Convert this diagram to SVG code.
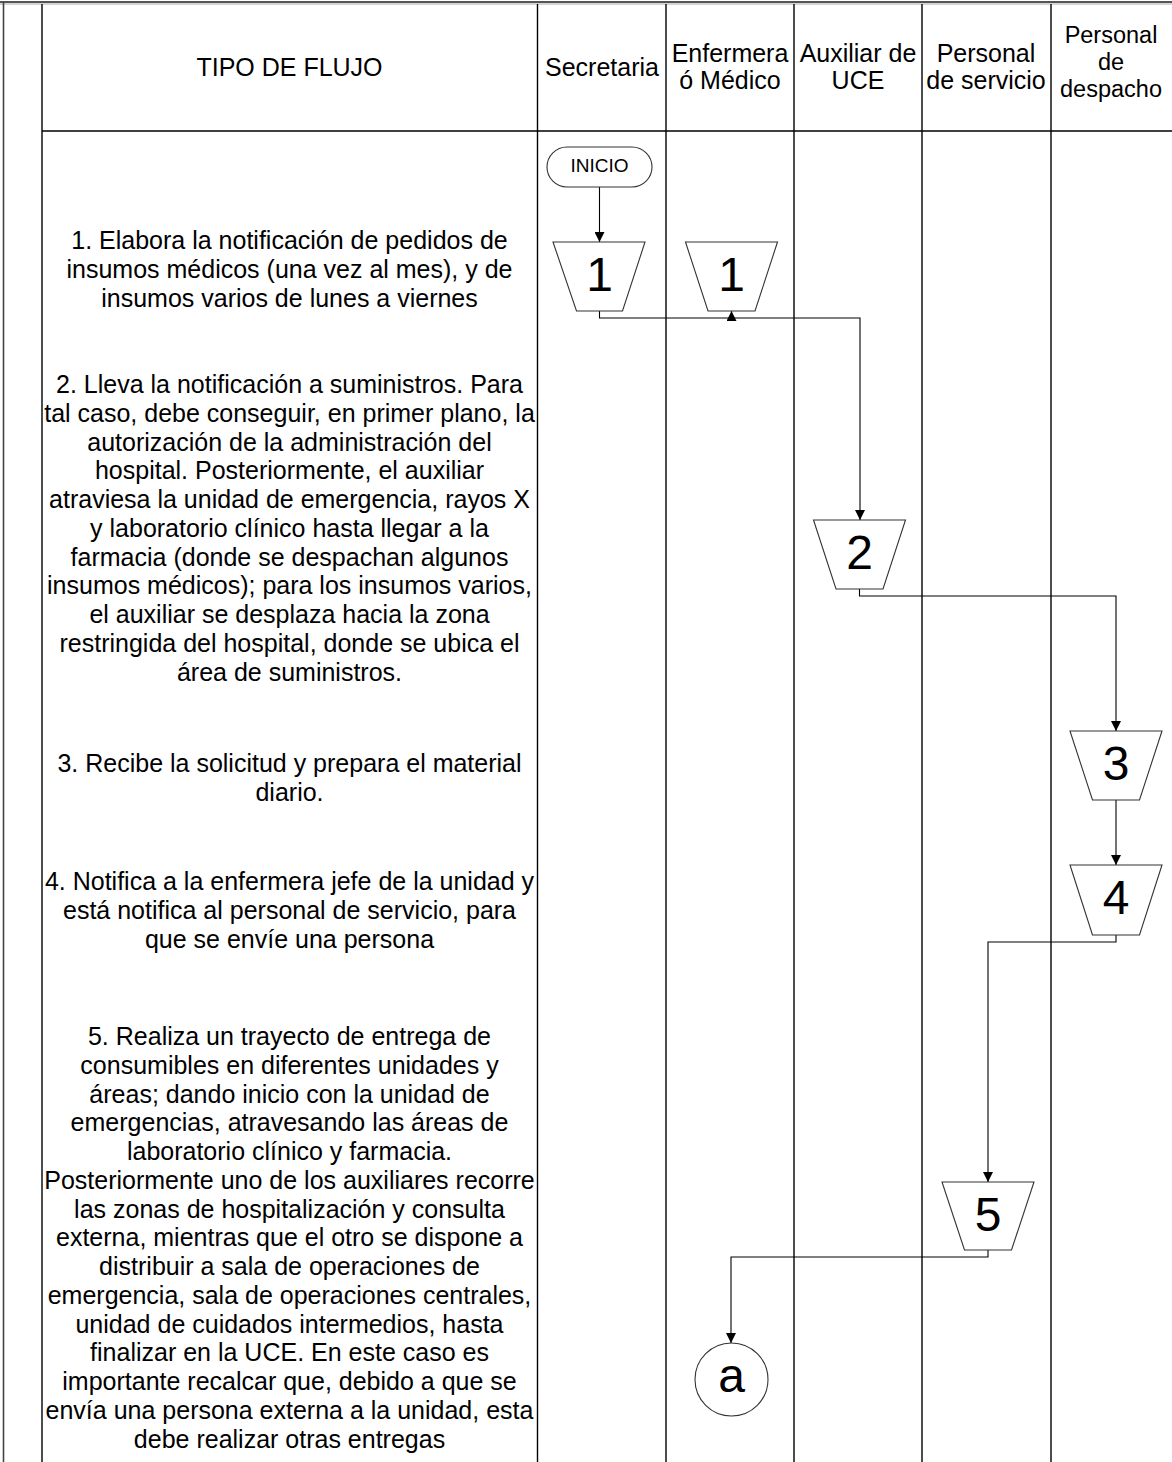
<svg xmlns="http://www.w3.org/2000/svg" width="1172" height="1462" viewBox="0 0 1172 1462">
<style>
  text { font-family: "Liberation Sans", Arial, sans-serif; fill: #000; }
  .h { font-size: 25px; text-anchor: middle; }
  .h3 { font-size: 23.5px; text-anchor: middle; }
  .b { font-size: 25px; text-anchor: middle; }
  .num { font-size: 48px; text-anchor: middle; }
  .grid { stroke: #000; stroke-width: 1.4; fill: none; }
  .shape { fill: #fff; stroke: #333; stroke-width: 1.1; }
  .conn { fill: none; stroke: #000; stroke-width: 1.1; }
</style>
<defs>
  <marker id="arr" viewBox="0 0 10 10" refX="10" refY="5" markerWidth="10" markerHeight="10" markerUnits="userSpaceOnUse" orient="auto">
    <path d="M0,0 L10,5 L0,10 z" fill="#000"/>
  </marker>
</defs>
<rect x="0" y="0" width="1172" height="1462" fill="#fff"/>
<g id="table">
  <line x1="0" y1="2" x2="1172" y2="2" stroke="#555" stroke-width="2"/>
  <line x1="0" y1="4" x2="1172" y2="4" stroke="#aaa" stroke-width="1"/>
  <line x1="3.5" y1="2" x2="3.5" y2="1462" stroke="#444" stroke-width="1.6"/>
  <line class="grid" x1="42" y1="4" x2="42" y2="1462"/>
  <line class="grid" x1="537.5" y1="4" x2="537.5" y2="1462"/>
  <line class="grid" x1="666" y1="4" x2="666" y2="1462"/>
  <line class="grid" x1="794" y1="4" x2="794" y2="1462"/>
  <line class="grid" x1="922" y1="4" x2="922" y2="1462"/>
  <line class="grid" x1="1051" y1="4" x2="1051" y2="1462"/>
  <line class="grid" x1="42" y1="131" x2="1172" y2="131"/>
</g>
<g id="header">
  <text class="h" x="289.5" y="76">TIPO DE FLUJO</text>
  <text class="h" x="602" y="76">Secretaria</text>
  <text class="h" x="730" y="62">Enfermera</text>
  <text class="h" x="730" y="89">ó Médico</text>
  <text class="h" x="858" y="62">Auxiliar de</text>
  <text class="h" x="858" y="89">UCE</text>
  <text class="h" x="986" y="62">Personal</text>
  <text class="h" x="986" y="89">de servicio</text>
  <text class="h3" x="1111" y="43">Personal</text>
  <text class="h3" x="1111" y="70">de</text>
  <text class="h3" x="1111" y="97">despacho</text>
</g>
<g id="step1-text">
  <text class="b" x="289.5" y="249">1. Elabora la notificación de pedidos de</text>
  <text class="b" x="289.5" y="277.75">insumos médicos (una vez al mes), y de</text>
  <text class="b" x="289.5" y="306.5">insumos varios de lunes a viernes</text>
</g>
<g id="step2-text">
  <text class="b" x="289.5" y="393">2. Lleva la notificación a suministros. Para</text>
  <text class="b" x="289.5" y="421.75">tal caso, debe conseguir, en primer plano, la</text>
  <text class="b" x="289.5" y="450.5">autorización de la administración del</text>
  <text class="b" x="289.5" y="479.25">hospital. Posteriormente, el auxiliar</text>
  <text class="b" x="289.5" y="508">atraviesa la unidad de emergencia, rayos X</text>
  <text class="b" x="289.5" y="536.75">y laboratorio clínico hasta llegar a la</text>
  <text class="b" x="289.5" y="565.5">farmacia (donde se despachan algunos</text>
  <text class="b" x="289.5" y="594.25">insumos médicos); para los insumos varios,</text>
  <text class="b" x="289.5" y="623">el auxiliar se desplaza hacia la zona</text>
  <text class="b" x="289.5" y="651.75">restringida del hospital, donde se ubica el</text>
  <text class="b" x="289.5" y="680.5">área de suministros.</text>
</g>
<g id="step3-text">
  <text class="b" x="289.5" y="772">3. Recibe la solicitud y prepara el material</text>
  <text class="b" x="289.5" y="800.75">diario.</text>
</g>
<g id="step4-text">
  <text class="b" x="289.5" y="890">4. Notifica a la enfermera jefe de la unidad y</text>
  <text class="b" x="289.5" y="918.75">está notifica al personal de servicio, para</text>
  <text class="b" x="289.5" y="947.5">que se envíe una persona</text>
</g>
<g id="step5-text">
  <text class="b" x="289.5" y="1045">5. Realiza un trayecto de entrega de</text>
  <text class="b" x="289.5" y="1073.75">consumibles en diferentes unidades y</text>
  <text class="b" x="289.5" y="1102.5">áreas; dando inicio con la unidad de</text>
  <text class="b" x="289.5" y="1131.25">emergencias, atravesando las áreas de</text>
  <text class="b" x="289.5" y="1160">laboratorio clínico y farmacia.</text>
  <text class="b" x="289.5" y="1188.75">Posteriormente uno de los auxiliares recorre</text>
  <text class="b" x="289.5" y="1217.5">las zonas de hospitalización y consulta</text>
  <text class="b" x="289.5" y="1246.25">externa, mientras que el otro se dispone a</text>
  <text class="b" x="289.5" y="1275">distribuir a sala de operaciones de</text>
  <text class="b" x="289.5" y="1303.75">emergencia, sala de operaciones centrales,</text>
  <text class="b" x="289.5" y="1332.5">unidad de cuidados intermedios, hasta</text>
  <text class="b" x="289.5" y="1361.25">finalizar en la UCE. En este caso es</text>
  <text class="b" x="289.5" y="1390">importante recalcar que, debido a que se</text>
  <text class="b" x="289.5" y="1418.75">envía una persona externa a la unidad, esta</text>
  <text class="b" x="289.5" y="1447.5">debe realizar otras entregas</text>
</g>
<g id="connectors">
  <path class="conn" d="M599.5,187 L599.5,242" marker-end="url(#arr)"/>
  <path class="conn" d="M599.5,311 L599.5,318 L860,318 L860,520" marker-end="url(#arr)"/>
  <path class="conn" d="M731.5,320 L731.5,311" marker-end="url(#arr)"/>
  <path class="conn" d="M859.5,589 L859.5,596 L1116,596 L1116,731" marker-end="url(#arr)"/>
  <path class="conn" d="M1116,800 L1116,865" marker-end="url(#arr)"/>
  <path class="conn" d="M1116,935 L1116,942 L988,942 L988,1182" marker-end="url(#arr)"/>
  <path class="conn" d="M988,1250 L988,1257 L731,1257 L731,1343" marker-end="url(#arr)"/>
</g>
<g id="inicio">
  <rect class="shape" x="547" y="147" width="105" height="40" rx="20" ry="20"/>
  <text x="599.5" y="172" style="font-size:19px;text-anchor:middle">INICIO</text>
</g>
<g id="op1-secretaria">
  <polygon class="shape" points="553,242 645,242 622.5,311 576.5,311"/>
  <text class="num" x="599.5" y="291">1</text>
</g>
<g id="op1-enfermera">
  <polygon class="shape" points="685.5,242 777.5,242 755,311 708,311"/>
  <text class="num" x="731.5" y="291">1</text>
</g>
<g id="op2">
  <polygon class="shape" points="813.5,520 905.5,520 883,589 836,589"/>
  <text class="num" x="859.5" y="569">2</text>
</g>
<g id="op3">
  <polygon class="shape" points="1070,731 1162,731 1139.5,800 1092.5,800"/>
  <text class="num" x="1116" y="780">3</text>
</g>
<g id="op4">
  <polygon class="shape" points="1070,865 1162,865 1139.5,935 1092.5,935"/>
  <text class="num" x="1116" y="914">4</text>
</g>
<g id="op5">
  <polygon class="shape" points="942,1182 1034,1182 1011.5,1250 964.5,1250"/>
  <text class="num" x="988" y="1231">5</text>
</g>
<g id="connector-a">
  <circle class="shape" cx="731.5" cy="1379.5" r="36.5"/>
  <text class="num" x="731.5" y="1392">a</text>
</g>
</svg>
